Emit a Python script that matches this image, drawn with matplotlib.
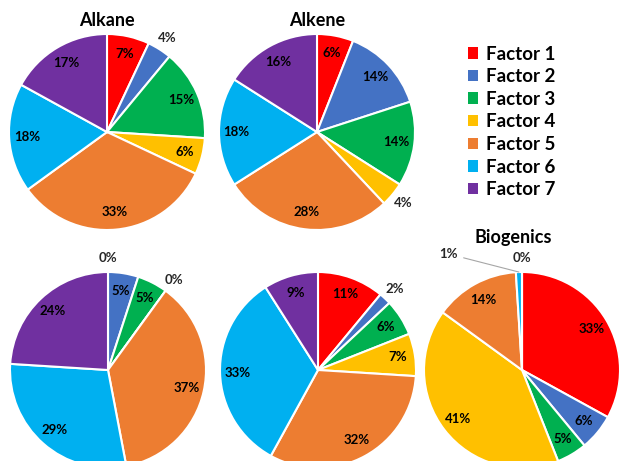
import numpy as np
import matplotlib.pyplot as plt
from matplotlib.patches import Patch

plt.rcParams['font.family'] = ['Lato', 'DejaVu Sans']

W, H = 622, 461

factors = ["Factor 1", "Factor 2", "Factor 3", "Factor 4",
           "Factor 5", "Factor 6", "Factor 7"]
colors = ["#FF0000", "#4472C4", "#00B050", "#FFC000",
          "#ED7D31", "#00B0F0", "#7030A0"]

alkane = [7, 4, 15, 6, 33, 18, 17]
alkene = [6, 14, 14, 4, 28, 18, 16]
group_c = [0, 5, 5, 0, 37, 29, 24]
group_d = [11, 2, 6, 7, 32, 33, 9]
biogenics = [33, 6, 5, 41, 14, 1, 0]

# (values, centre x, centre y from top, title)
pies = [
    (alkane, 107, 132, "Alkane"),
    (alkene, 317, 132, "Alkene"),
    (group_c, 108, 370, None),
    (group_d, 318, 370, None),
    (biogenics, 522, 370, "Biogenics"),
]
R = 98

fig = plt.figure(figsize=(W / 100, H / 100), dpi=100)
ax = fig.add_axes([0, 0, 1, 1])

for vals, cx, cy, title in pies:
    cy = H - cy
    wedges, _ = ax.pie(vals, colors=colors, startangle=90, counterclock=False,
                       center=(cx, cy), radius=R,
                       wedgeprops=dict(edgecolor='white', linewidth=1.5))
    for w, v in zip(wedges, vals):
        mid = np.deg2rad((w.theta1 + w.theta2) / 2)
        if title == "Biogenics" and v == 1:
            ex, ey = cx + R * np.cos(mid), cy + R * np.sin(mid)
            ax.annotate(f"{v}%", xy=(ex, ey), xytext=(-70, 18),
                        textcoords='offset pixels', ha='center', va='center',
                        fontsize=9.5, fontweight='bold', color='#262626',
                        arrowprops=dict(arrowstyle='-', color='#a6a6a6', lw=0.8,
                                        shrinkA=2, shrinkB=0))
            continue
        if v < 5:
            d, c = 1.14, '#262626'
        else:
            d, c = 0.82, 'black'
        ax.text(cx + d * R * np.cos(mid), cy + d * R * np.sin(mid), f"{v}%",
                ha='center', va='center', fontsize=9.5, fontweight='bold', color=c)
    if title:
        ty = cy + R + 13 if title != "Biogenics" else cy + R + 35
        tx = cx if title != "Biogenics" else cx - 9
        ax.text(tx, ty, title, ha='center', va='center',
                fontsize=13, fontweight='bold')

handles = [Patch(facecolor=c, edgecolor='none') for c in colors]
ax.legend(handles, factors, loc='upper left', frameon=False,
          bbox_to_anchor=(460 / W, 1 - 38 / H), bbox_transform=fig.transFigure,
          prop=dict(size=13.5, weight='bold'), handlelength=0.55, handleheight=0.55,
          handletextpad=0.45, labelspacing=0.3, borderaxespad=0)

ax.set_xlim(0, W)
ax.set_ylim(0, H)
ax.set_aspect('auto')
ax.axis('off')

fig.savefig("out.png", dpi=100)
